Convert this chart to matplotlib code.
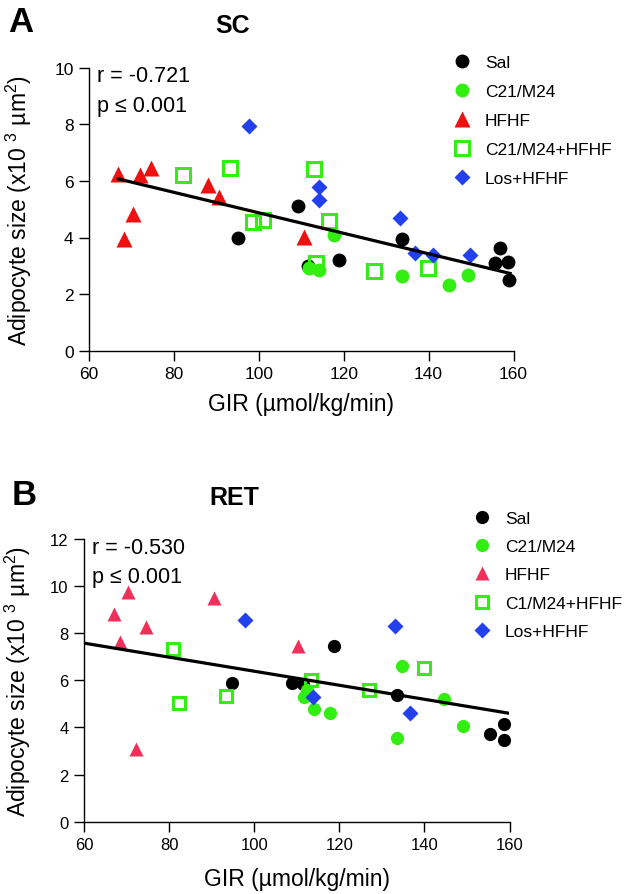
import matplotlib
matplotlib.use("Agg")
import matplotlib.pyplot as plt

plt.rcParams['font.family'] = ['Liberation Sans', 'DejaVu Sans']
plt.rcParams['mathtext.fontset'] = 'custom'
plt.rcParams['mathtext.rm'] = 'Liberation Sans'
plt.rcParams['mathtext.it'] = 'Liberation Sans'

# ---------------- Panel A (SC) ----------------
sc_sal_x = [95.0, 109.3, 111.5, 118.9, 133.7, 156.8, 155.6, 158.8, 159.0]
sc_sal_y = [3.98, 5.10, 3.00, 3.22, 3.94, 3.62, 3.10, 3.12, 2.51]
sc_c21_x = [111.9, 114.1, 117.6, 133.8, 144.8, 149.3]
sc_c21_y = [2.92, 2.86, 4.10, 2.64, 2.31, 2.67]
sc_hfhf_x = [66.9, 68.3, 70.3, 72.0, 74.6, 88.0, 90.7, 110.6]
sc_hfhf_y = [6.25, 3.95, 4.83, 6.20, 6.44, 5.87, 5.44, 4.02]
sc_c21hf_x = [82.1, 93.3, 98.6, 101.1, 112.9, 116.5, 113.5, 127.1, 139.9]
sc_c21hf_y = [6.21, 6.44, 4.54, 4.63, 6.42, 4.59, 3.10, 2.83, 2.91]
sc_los_x = [97.8, 114.1, 114.1, 133.2, 136.7, 141.0, 149.7]
sc_los_y = [7.95, 5.80, 5.34, 4.69, 3.45, 3.38, 3.38]
sc_fit_x = [66.9, 159.2]
sc_fit_y = [6.07, 2.73]

# ---------------- Panel B (RET) ----------------
ret_sal_x = [94.9, 109.0, 111.4, 118.8, 133.6, 158.6, 155.5, 158.7]
ret_sal_y = [5.87, 5.87, 5.84, 7.47, 5.39, 4.15, 3.72, 3.48]
ret_c21_x = [111.8, 112.3, 114.1, 117.8, 134.7, 133.6, 144.7, 149.0]
ret_c21_y = [5.28, 5.60, 4.78, 4.61, 6.60, 3.54, 5.21, 4.05]
ret_hfhf_x = [70.35, 67.1, 68.4, 74.5, 72.2, 90.6, 110.4]
ret_hfhf_y = [9.75, 8.82, 7.64, 8.28, 3.07, 9.48, 7.46]
ret_c21hf_x = [80.8, 82.4, 93.3, 113.3, 126.9, 139.8]
ret_c21hf_y = [7.33, 5.02, 5.35, 6.03, 5.59, 6.52]
ret_los_x = [97.8, 113.9, 133.1, 136.6]
ret_los_y = [8.56, 5.28, 8.29, 4.61]
ret_fit_x = [60.0, 160.0]
ret_fit_y = [7.58, 4.60]

xticks = [60, 80, 100, 120, 140, 160]
sc_yticks = [0, 2, 4, 6, 8, 10]
ret_yticks = [0, 2, 4, 6, 8, 10, 12]

BLACK = '#000000'
GREEN = '#33ee11'
RED_A = '#ee1111'
RED_B = '#f0305a'
BLUE = '#2240ee'

XLABEL = 'GIR (µmol/kg/min)'
YLABEL = 'Adipocyte size (x10 $^{3}$ µm$^2$)'

W, H = 625, 895
fig = plt.figure(figsize=(W / 100, H / 100), dpi=100)


def px(x, y):
    return x / W, 1 - y / H


def make_axes(l, r, t, b):
    return fig.add_axes([l / W, 1 - b / H, (r - l) / W, (b - t) / H])


def style_axes(ax, yticks, ymax, tick_fs):
    ax.set_xlim(60, 160)
    ax.set_ylim(0, ymax)
    ax.set_xticks(xticks)
    ax.set_yticks(yticks)
    for s in ['top', 'right']:
        ax.spines[s].set_visible(False)
    for s in ['left', 'bottom']:
        ax.spines[s].set_linewidth(1.0)
    ax.tick_params(direction='out', length=7, width=1.0, labelsize=tick_fs, pad=4)


def draw_panel(ax, d, red, ms):
    h = []
    h.append(ax.plot(d['sal'][0], d['sal'][1], 'o', color=BLACK, ms=ms, mec='none', clip_on=False)[0])
    h.append(ax.plot(d['c21'][0], d['c21'][1], 'o', color=GREEN, ms=ms, mec='none', clip_on=False)[0])
    h.append(ax.plot(d['hfhf'][0], d['hfhf'][1], '^', color=red, ms=ms + 1, mec='none', clip_on=False)[0])
    h.append(ax.plot(d['c21hf'][0], d['c21hf'][1], 's', mfc='none', mec=GREEN, mew=2.2, ms=ms - 0.5, clip_on=False)[0])
    h.append(ax.plot(d['los'][0], d['los'][1], 'D', color=BLUE, ms=ms - 1.5, mec='none', clip_on=False)[0])
    ax.plot(d['fit'][0], d['fit'][1], '-', color='black', lw=2.3, zorder=5)
    return h


def labels(ax, top, bottom, left, xlab_y, ylab_x):
    hgt = bottom - top
    wid = 424.0
    ax.set_xlabel(XLABEL, fontsize=16.5)
    ax.xaxis.set_label_coords(0.5, (bottom - xlab_y) / hgt)
    ax.xaxis.label.set_va('center')
    ax.set_ylabel(YLABEL, fontsize=16.5)
    ax.yaxis.set_label_coords((ylab_x - left) / wid, 0.5)
    ax.yaxis.label.set_va('center')


# Panel A
A_L, A_R, A_T, A_B = 89, 513.5, 68.7, 351.7
axA = make_axes(A_L, A_R, A_T, A_B)
style_axes(axA, sc_yticks, 10, 12.5)
hA = draw_panel(axA, {'sal': (sc_sal_x, sc_sal_y), 'c21': (sc_c21_x, sc_c21_y),
                      'hfhf': (sc_hfhf_x, sc_hfhf_y), 'c21hf': (sc_c21hf_x, sc_c21hf_y),
                      'los': (sc_los_x, sc_los_y), 'fit': (sc_fit_x, sc_fit_y)},
                RED_A, 10)
labels(axA, A_T, A_B, A_L, 405, 19)
fig.text(*px(97, 82), 'r = -0.721', fontsize=15.5, va='baseline', ha='left')
fig.text(*px(97, 112), 'p ≤ 0.001', fontsize=15.5, va='baseline', ha='left')
labelsA = ['Sal', 'C21/M24', 'HFHF', 'C21/M24+HFHF', 'Los+HFHF']
fig.legend(hA, labelsA, loc='upper left', bbox_to_anchor=px(446, 49),
           frameon=False, fontsize=12.5, handletextpad=0.84, labelspacing=0.8,
           handlelength=1.0, borderaxespad=0)

fig.text(*px(8, 32), 'A', fontsize=25, fontweight='bold', va='baseline', ha='left')
fig.text(*px(233, 33), 'SC', fontsize=18, fontweight='bold', va='baseline', ha='center')

# Panel B
B_L, B_R, B_T, B_B = 84, 509.5, 540, 822.7
axB = make_axes(B_L, B_R, B_T, B_B)
style_axes(axB, ret_yticks, 12, 12)
hB = draw_panel(axB, {'sal': (ret_sal_x, ret_sal_y), 'c21': (ret_c21_x, ret_c21_y),
                      'hfhf': (ret_hfhf_x, ret_hfhf_y), 'c21hf': (ret_c21hf_x, ret_c21hf_y),
                      'los': (ret_los_x, ret_los_y), 'fit': (ret_fit_x, ret_fit_y)},
                RED_B, 9.5)
labels(axB, B_T, B_B, B_L, 880, 18)
fig.text(*px(92, 554), 'r = -0.530', fontsize=15.5, va='baseline', ha='left')
fig.text(*px(92, 583), 'p ≤ 0.001', fontsize=15.5, va='baseline', ha='left')
labelsB = ['Sal', 'C21/M24', 'HFHF', 'C1/M24+HFHF', 'Los+HFHF']
fig.legend(hB, labelsB, loc='upper left', bbox_to_anchor=px(466, 505),
           frameon=False, fontsize=12.5, handletextpad=0.84, labelspacing=0.75,
           handlelength=1.0, borderaxespad=0)

fig.text(*px(12, 505), 'B', fontsize=25, fontweight='bold', va='baseline', ha='left')
fig.text(*px(234, 505), 'RET', fontsize=18, fontweight='bold', va='baseline', ha='center')

fig.savefig('out.png', dpi=100)
